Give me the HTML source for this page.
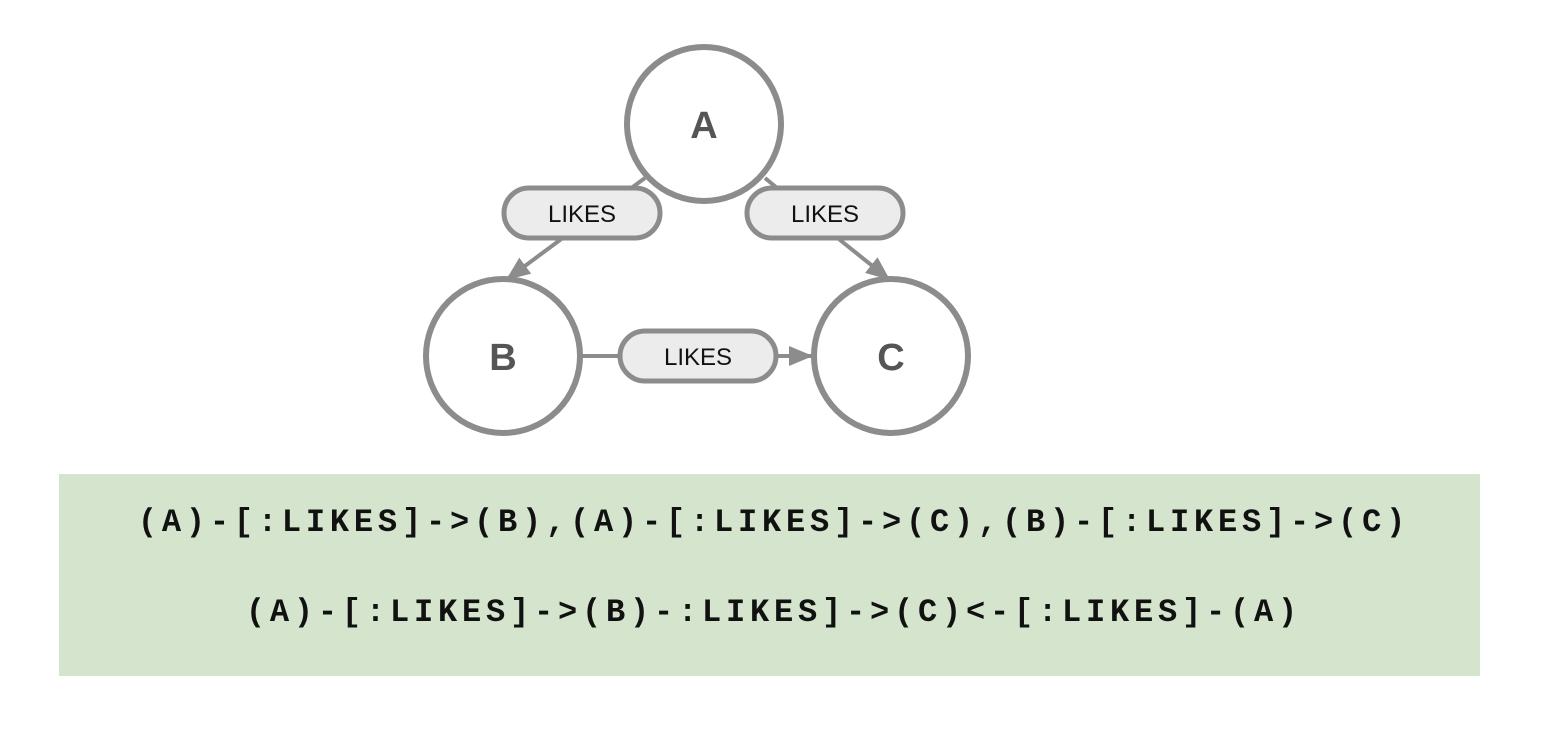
<!DOCTYPE html>
<html><head><style>
body{margin:0;background:#fff;width:1548px;height:742px;overflow:hidden;position:relative}
.box{position:absolute;left:59px;top:474px;width:1421px;height:202px;background:#d5e5cd}
.t{position:absolute;left:0;width:100%;text-align:center;font-family:"Liberation Mono","Courier New",monospace;font-weight:bold;font-size:32px;letter-spacing:4.8px;color:#111}
</style></head><body>
<svg width="1548" height="474" style="position:absolute;left:0;top:0">
<defs>
<marker id="ar2" markerWidth="24" markerHeight="20" refX="24" refY="10" orient="auto" markerUnits="userSpaceOnUse"><path d="M0,0 L24,10 L0,20z" fill="#8c8c8c"/></marker></defs>
<g stroke="#8c8c8c" stroke-width="4" fill="none">
<line x1="645" y1="178" x2="560" y2="240"/>
<line x1="560" y1="240" x2="506" y2="280" marker-end="url(#ar2)"/>
<line x1="765" y1="178" x2="840" y2="240"/>
<line x1="840" y1="240" x2="890" y2="280" marker-end="url(#ar2)"/>
<line x1="582" y1="356" x2="620" y2="356"/>
<line x1="776" y1="356" x2="813" y2="356" marker-end="url(#ar2)"/>
</g>
<g stroke="#8c8c8c" stroke-width="6" fill="#fff">
<circle cx="704" cy="124" r="77"/>
<circle cx="503" cy="356" r="77"/>
<circle cx="891" cy="356" r="77"/>
</g>
<g stroke="#8c8c8c" stroke-width="5" fill="#ececec">
<rect x="504" y="188" width="156" height="50" rx="25"/>
<rect x="747" y="188" width="156" height="50" rx="25"/>
<rect x="620" y="331" width="156" height="50" rx="25"/>
</g>
<g font-family="Liberation Sans,sans-serif" font-size="24" fill="#111" text-anchor="middle">
<text x="582" y="222">LIKES</text><text x="825" y="222">LIKES</text><text x="698" y="365">LIKES</text>
</g>
<g font-family="Liberation Sans,sans-serif" font-size="38" font-weight="bold" fill="#555" text-anchor="middle">
<text x="704" y="138">A</text><text x="503" y="370">B</text><text x="891" y="370">C</text>
</g>
</svg>
<div class="box"></div>
<div class="t" style="top:504px">(A)-[:LIKES]->(B),(A)-[:LIKES]->(C),(B)-[:LIKES]->(C)</div>
<div class="t" style="top:594px">(A)-[:LIKES]->(B)-:LIKES]->(C)&lt;-[:LIKES]-(A)</div>
</body></html>
